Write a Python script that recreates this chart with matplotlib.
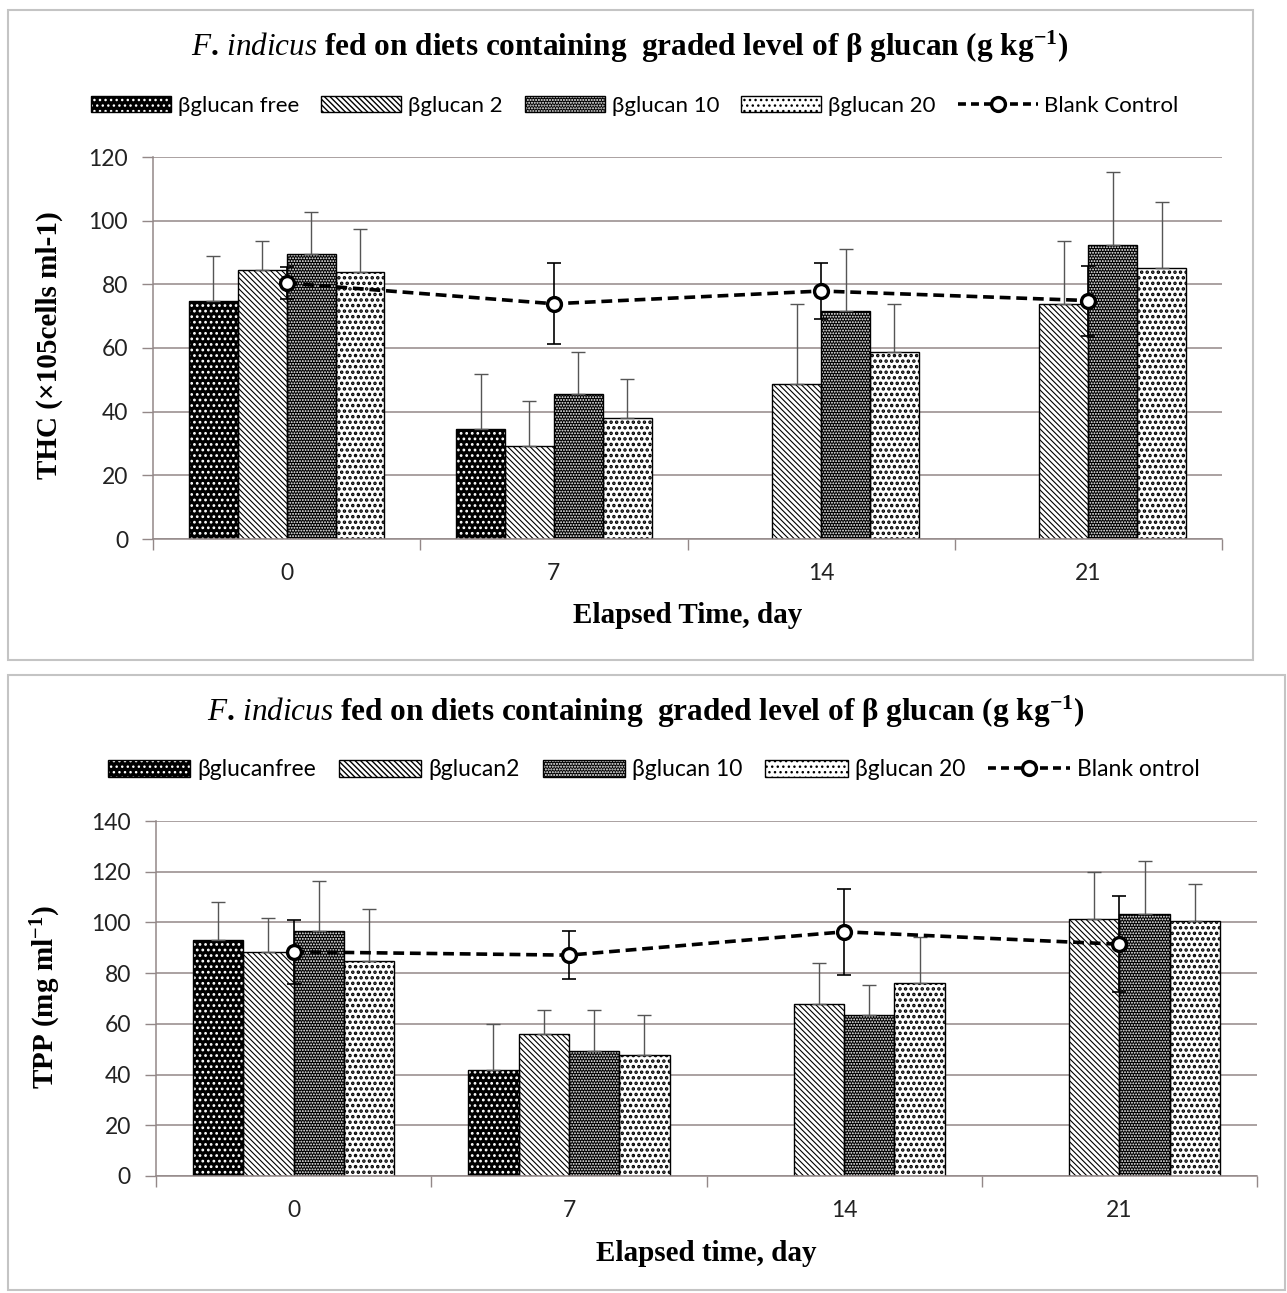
import numpy as np
import matplotlib
matplotlib.use("Agg")
import matplotlib.pyplot as plt
from matplotlib.patches import Patch, Rectangle
from matplotlib.lines import Line2D
from matplotlib.legend_handler import HandlerTuple

plt.rcParams['font.family'] = ['Lato', 'Open Sans', 'DejaVu Sans']
plt.rcParams['mathtext.fontset'] = 'custom'
plt.rcParams['mathtext.rm'] = 'Liberation Serif:bold'
plt.rcParams['mathtext.it'] = 'Liberation Serif:italic'
plt.rcParams['mathtext.bf'] = 'Liberation Serif:bold'
plt.rcParams['hatch.linewidth'] = 1.0

# data
days = ['0', '7', '14', '21']
series = ['\u03b2glucan free', '\u03b2glucan 2', '\u03b2glucan 10', '\u03b2glucan 20']

thc_mean = [
    [74.9, 34.5, np.nan, np.nan],
    [84.4, 29.2, 48.6, 73.7],
    [89.5, 45.5, 71.5, 92.3],
    [83.9, 38.1, 58.6, 85.2],
]
thc_err = [
    [13.9, 17.3, np.nan, np.nan],
    [9.3, 14.2, 25.1, 20.0],
    [13.1, 13.1, 19.6, 23.0],
    [13.4, 12.1, 15.1, 20.6],
]
thc_blank = [80.4, 73.9, 77.9, 74.9]
thc_blank_err = [5.0, 12.7, 8.9, 11.0]

tpp_mean = [
    [93.0, 42.0, np.nan, np.nan],
    [88.4, 56.0, 67.8, 101.3],
    [96.7, 49.4, 63.4, 103.2],
    [84.8, 47.7, 76.2, 100.5],
]
tpp_err = [
    [15.1, 17.8, np.nan, np.nan],
    [13.5, 9.4, 16.3, 18.7],
    [19.5, 16.0, 12.1, 20.9],
    [20.3, 15.7, 18.1, 14.8],
]
tpp_blank = [88.4, 87.1, 96.3, 91.4]
tpp_blank_err = [12.7, 9.6, 17.0, 19.0]

# (face, hatch colour, hatch, hatch linewidth)
styles = [
    ('black', 'white', '...', 1.2),
    ('white', 'black', '\\\\\\\\\\\\', 0.8),
    ('black', 'white', '......', 0.9),
    ('white', 'black', '...', 1.7),
]

GRID = '#938888'
BAR_W = 0.183


def hatched(draw, hatch_lw):
    # hatch linewidth is an rcParam; set it around the artist creation
    with plt.rc_context({'hatch.linewidth': hatch_lw}):
        art = draw()
    return art


def draw_panel(ax, means, errs, blank, blank_err, ymax):
    x = np.arange(len(days))
    for i, (face, hc, hatch, hlw) in enumerate(styles):
        vals = np.array(means[i])
        err = np.array(errs[i])
        ok = ~np.isnan(vals)
        xs = x[ok] + (i - 1.5) * BAR_W
        ax.bar(xs, vals[ok], BAR_W, color=face, edgecolor='none', zorder=2)
        hatched(lambda: ax.bar(xs, vals[ok], BAR_W, facecolor='none',
                               edgecolor=hc, hatch=hatch, linewidth=0,
                               zorder=2.1), hlw)
        ax.bar(xs, vals[ok], BAR_W, facecolor='none', edgecolor='black',
               linewidth=1.0, zorder=2.2)
        ax.errorbar(xs, vals[ok], yerr=[np.zeros(ok.sum()), err[ok]],
                    fmt='none', ecolor='#555555', elinewidth=1.0,
                    capsize=5, capthick=1.0, zorder=3)
    ax.errorbar(x, blank, yerr=blank_err, fmt='none', ecolor='black',
                elinewidth=1.2, capsize=5, capthick=1.2, zorder=4)
    ax.plot(x, blank, color='black', lw=2.6, dashes=(3, 1.6), marker='o',
            markersize=10, markerfacecolor='white', markeredgecolor='black',
            markeredgewidth=2.4, zorder=5)

    ax.set_xlim(-0.5, len(days) - 0.5)
    ax.set_ylim(0, ymax)
    ax.set_yticks(np.arange(0, ymax + 1, 20))
    ax.set_xticks(x)
    ax.set_xticklabels(days)
    ax.set_xticks(np.arange(-0.5, len(days), 1), minor=True)
    ax.tick_params(axis='x', which='major', length=0, pad=17,
                   labelsize=16.5, labelcolor='#222222')
    ax.tick_params(axis='x', which='minor', length=8, color=GRID, width=1)
    ax.tick_params(axis='y', length=8, color=GRID, width=1, pad=10,
                   labelsize=16.5, labelcolor='#222222')
    ax.grid(axis='y', color=GRID, lw=1.1, zorder=0)
    ax.set_axisbelow(True)
    for s in ['top', 'right']:
        ax.spines[s].set_visible(False)
    for s in ['left', 'bottom']:
        ax.spines[s].set_color(GRID)
        ax.spines[s].set_linewidth(1.1)


def legend_handles():
    hs = []
    for face, hc, hatch, hlw in styles:
        base = Patch(facecolor=face, edgecolor='none')
        over = hatched(lambda: Patch(facecolor='none', edgecolor=hc,
                                     hatch=hatch, linewidth=0), hlw)
        edge = Patch(facecolor='none', edgecolor='black', linewidth=1.0)
        hs.append((base, over, edge))
    line = Line2D([], [], color='black', lw=2.6, dashes=(2.2, 1.4), marker='o',
                  markersize=10, markerfacecolor='white',
                  markeredgecolor='black', markeredgewidth=2.4)
    hs.append(line)
    return hs


W, H = 1287, 1293
fig = plt.figure(figsize=(W / 100, H / 100), dpi=100)

# panel frames
fig.patches.append(Rectangle((8 / W, 1 - 660 / H), 1245 / W, 650 / H,
                             transform=fig.transFigure, fill=False,
                             edgecolor='#c4c4c4', lw=1.5))
fig.patches.append(Rectangle((8 / W, 1 - 1290 / H), 1277 / W, 615 / H,
                             transform=fig.transFigure, fill=False,
                             edgecolor='#c4c4c4', lw=1.5))

ax1 = fig.add_axes([153 / W, 1 - 539 / H, 1069 / W, 382 / H])
draw_panel(ax1, thc_mean, thc_err, thc_blank, thc_blank_err, 120)
ax1.set_ylabel('THC (\u00d7105cells ml-1)', family='Liberation Serif',
               fontweight='bold', fontsize=21)
ax1.yaxis.set_label_coords(-0.084, 0.508)
ax1.set_xlabel('Elapsed Time, day', family='Liberation Serif',
               fontweight='bold', fontsize=21)
ax1.xaxis.set_label_coords(0.50, -0.165)

ax2 = fig.add_axes([156 / W, 1 - 1176 / H, 1101 / W, 355 / H])
draw_panel(ax2, tpp_mean, tpp_err, tpp_blank, tpp_blank_err, 140)
ax2.set_ylabel('TPP (mg ml$^{-1}$)', family='Liberation Serif',
               fontweight='bold', fontsize=21)
ax2.yaxis.set_label_coords(-0.0845, 0.504)
ax2.set_xlabel('Elapsed time, day', family='Liberation Serif',
               fontweight='bold', fontsize=21)
ax2.xaxis.set_label_coords(0.50, -0.18)

title = '$\\mathit{F.\\,indicus}$ fed on diets containing  graded level of \u03b2 glucan (g kg$^{-1}$)'
fig.text(630 / W, 1 - 47 / H, title, ha='center', va='center',
         family='Liberation Serif', fontweight='bold', fontsize=22.5)
fig.text(646 / W, 1 - 712 / H, title, ha='center', va='center',
         family='Liberation Serif', fontweight='bold', fontsize=22.5)

labels_top = series + ['Blank Control']
labels_bot = ['\u03b2glucanfree', '\u03b2glucan2', '\u03b2glucan 10',
              '\u03b2glucan 20', 'Blank ontrol']
for labels, xc, yc, fs in [(labels_top, 635, 106, 16), (labels_bot, 654, 770, 16.5)]:
    fig.legend(legend_handles(), labels, loc='center',
               bbox_to_anchor=(xc / W, 1 - yc / H), ncol=5, frameon=False,
               handler_map={tuple: HandlerTuple(ndivide=1, pad=0)},
               fontsize=fs, handlelength=3.6, handleheight=0.7,
               handletextpad=0.3, columnspacing=1.0, borderaxespad=0)

fig.savefig('out.png', dpi=100)
